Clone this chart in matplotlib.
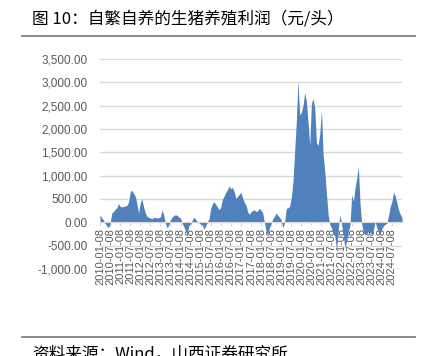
import matplotlib
matplotlib.use("Agg")
import matplotlib.pyplot as plt
from matplotlib.lines import Line2D
from matplotlib.ticker import FuncFormatter

plt.rcParams['font.family'] = ['Noto Sans CJK SC', 'DejaVu Sans']

title = "图 10：自繁自养的生猪养殖利润（元/头）"
source = "资料来源：Wind，山西证券研究所"

# monthly profit, 2010-01 .. 2025-01
profit = [
    160, 100, 50, -20, -80, -110, -40, 200, 230, 280, 310, 400,          # 2010
    340, 330, 340, 350, 360, 430, 650, 690, 620, 560, 400, 200,          # 2011
    420, 500, 330, 200, 130, 110, 90, 80, 100, 110, 90, 100,             # 2012
    120, 270, 150, -20, -120, -60, 60, 110, 150, 160, 150, 110,          # 2013
    90, -20, -100, -190, -260, -70, -30, 50, 110, 60, 20, -10,           # 2014
    -40, -60, -150, -80, 10, 80, 300, 400, 440, 380, 330, 270,           # 2015
    330, 500, 560, 650, 700, 780, 720, 750, 650, 510, 560, 600,          # 2016
    640, 520, 430, 370, 230, 170, 230, 250, 270, 230, 250, 300,          # 2017
    260, 200, -10, -190, -260, -120, -20, 80, 130, 200, 150, 110,        # 2018
    50, -120, -10, 300, 310, 340, 520, 870, 1500, 2150, 3030, 2300,      # 2019
    2360, 2500, 2780, 2600, 2150, 1650, 2550, 2650, 2450, 1700, 1650, 1900,  # 2020
    2400, 1450, 1080, 600, 160, -50, -120, -250, -300, -600, -150, 160,  # 2021
    -30, -300, -540, -400, -200, -60, 590, 450, 730, 940, 1190, 400,     # 2022
    -20, -230, -260, -240, -200, -220, -260, -150, 20, -120, -200, -260, # 2023
    -130, -80, -40, -20, 150, 340, 450, 650, 560, 420, 260, 170,         # 2024
    100,                                                                 # 2025
]
months = list(range(len(profit)))

tick_pos = list(range(0, 175, 6))
tick_labels = []
for y in range(2010, 2025):
    tick_labels.append(f"{y}-01-08")
    tick_labels.append(f"{y}-07-08")

yticks = [-1000, -500, 0, 500, 1000, 1500, 2000, 2500, 3000, 3500]

W, H = 425, 356
fig = plt.figure(figsize=(W / 100, H / 100), dpi=100)
ax = fig.add_axes([100 / W, 1 - 269 / H, 302 / W, 210 / H])

ax.fill_between(months, profit, 0, color='#4f81bd', lw=0, zorder=2)

ax.set_xlim(0, 180)
ax.set_ylim(-1000, 3500)
ax.set_yticks(yticks)
ax.yaxis.set_major_formatter(FuncFormatter(lambda v, p: f"{v:,.2f}"))
ax.grid(axis='y', color='#d9d9d9', lw=1, zorder=0)
ax.set_axisbelow(True)

for s in ['top', 'right', 'left']:
    ax.spines[s].set_visible(False)
ax.spines['bottom'].set_position(('data', 0))
ax.spines['bottom'].set_color('#d9d9d9')
ax.spines['bottom'].set_zorder(3)

ax.set_xticks(tick_pos)
ax.set_xticklabels(tick_labels, rotation=90, family='Liberation Sans',
                   fontsize=8, color='#595959')
ax.tick_params(axis='x', length=3, color='#d9d9d9', pad=1)
ax.tick_params(axis='y', length=0, pad=9, labelsize=8.5, labelcolor='#595959')
for lab in ax.get_yticklabels():
    lab.set_family('Liberation Sans')

fig.text(32 / W, 1 - 19.5 / H, title, fontsize=12, va='center', ha='left')
fig.add_artist(Line2D([22 / W, 415 / W], [1 - 36 / H] * 2, color='#808080', lw=1.3))
fig.add_artist(Line2D([22 / W, 415 / W], [1 - 337 / H] * 2, color='#808080', lw=1.3))
fig.text(32 / W, 1 - 345 / H, source, fontsize=12, va='top', ha='left')

fig.savefig("out.png", dpi=100)
